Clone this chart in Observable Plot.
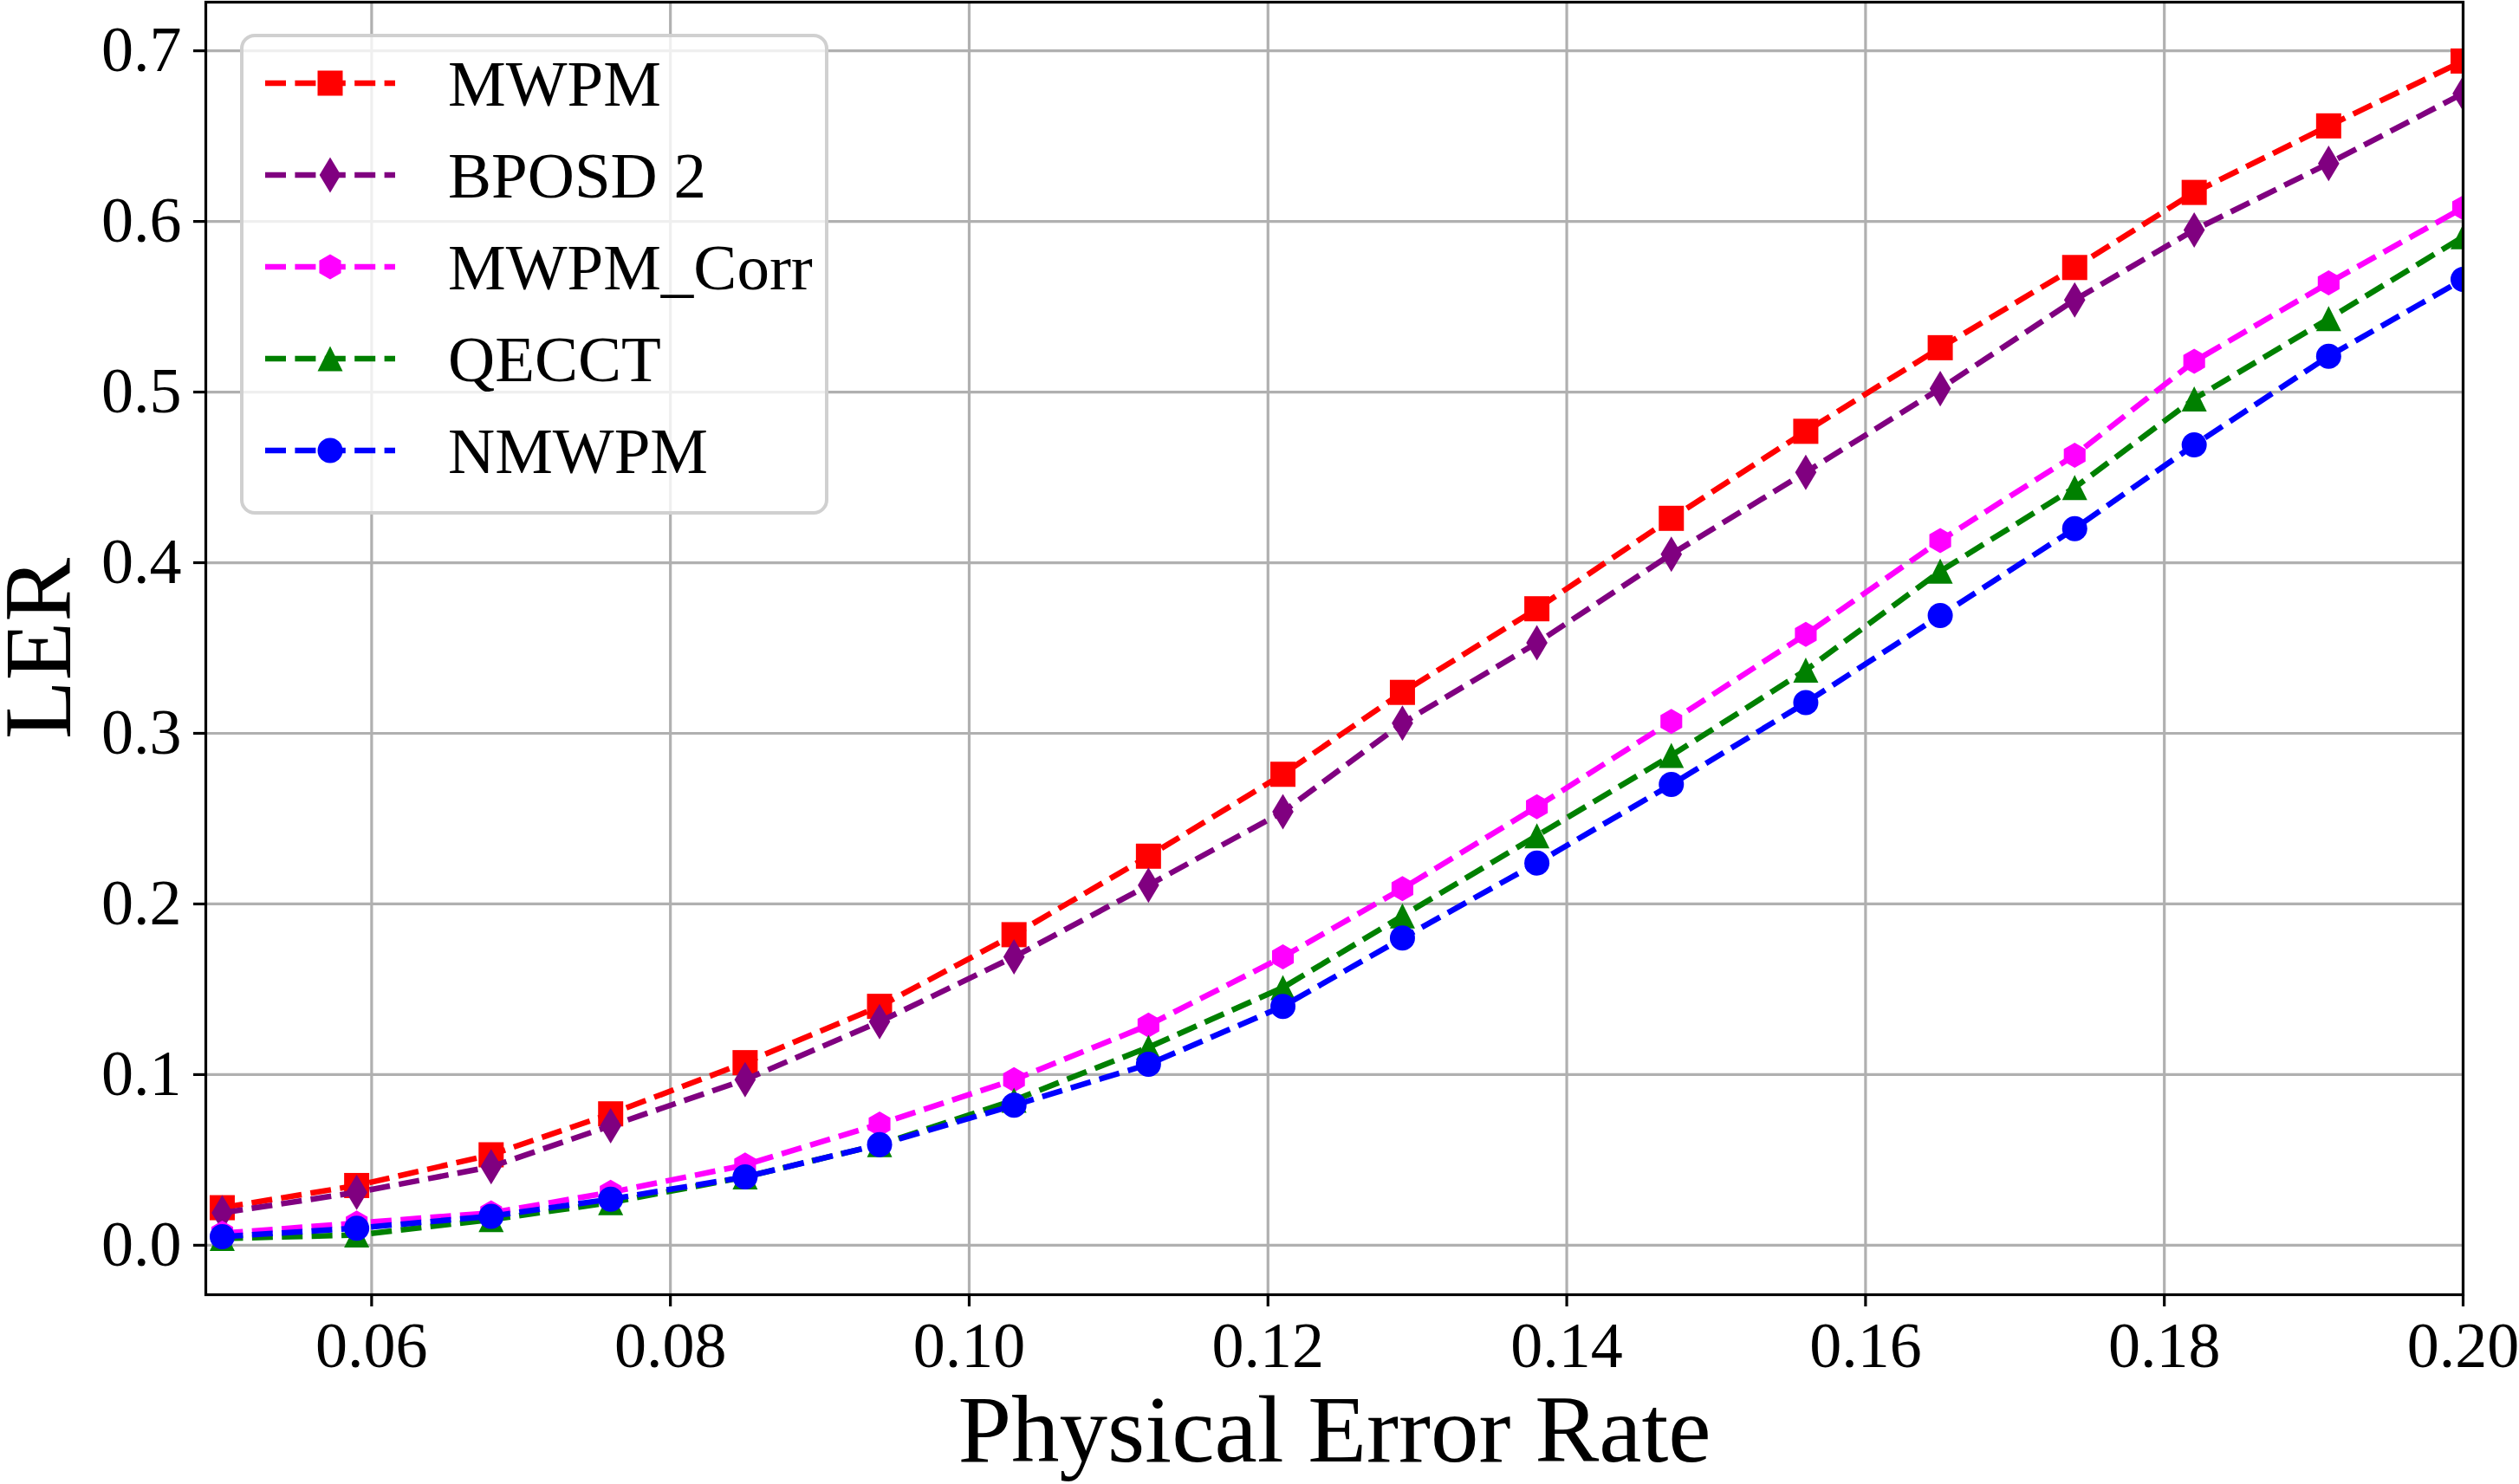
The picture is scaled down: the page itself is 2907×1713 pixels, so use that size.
<!DOCTYPE html>
<html>
<head>
<meta charset="utf-8">
<script src="https://cdn.jsdelivr.net/npm/d3@7"></script>
<script src="https://cdn.jsdelivr.net/npm/@observablehq/plot@0.6"></script>
<style>
  html, body { margin: 0; padding: 0; background: #ffffff; }
  #chart { width: 2907px; height: 1713px; }
  svg { overflow: visible; }
</style>
</head>
<body>
<div id="chart"></div>
<script>
// Physical error rates at which each decoder was evaluated
const errorRates = [0.05, 0.059, 0.068, 0.076, 0.085, 0.094, 0.103, 0.112, 0.121,
                    0.129, 0.138, 0.147, 0.156, 0.165, 0.174, 0.182, 0.191, 0.2];

// Logical error rate per decoder
const lerMWPM     = [0.022, 0.035, 0.053, 0.077, 0.107, 0.140, 0.182, 0.228, 0.276,
                    0.324, 0.373, 0.426, 0.477, 0.526, 0.573, 0.617, 0.656, 0.694];
const lerBPOSD2   = [0.019, 0.031, 0.046, 0.070, 0.097, 0.131, 0.169, 0.211, 0.254,
                    0.306, 0.353, 0.405, 0.453, 0.502, 0.554, 0.595, 0.634, 0.675];
const lerMWPMCorr = [0.007, 0.013, 0.019, 0.031, 0.047, 0.071, 0.097, 0.129, 0.169,
                    0.209, 0.257, 0.307, 0.358, 0.413, 0.463, 0.518, 0.564, 0.608];
const lerQECCT    = [0.004, 0.006, 0.015, 0.025, 0.040, 0.059, 0.085, 0.116, 0.151,
                    0.193, 0.240, 0.287, 0.337, 0.395, 0.444, 0.496, 0.543, 0.591];
const lerNMWPM    = [0.005, 0.010, 0.017, 0.027, 0.040, 0.059, 0.082, 0.106, 0.140,
                    0.180, 0.224, 0.270, 0.318, 0.369, 0.420, 0.469, 0.521, 0.566];

const decoderNames = ["MWPM", "BPOSD 2", "MWPM_Corr", "QECCT", "NMWPM"];
const decoderColors = ["#ff0000", "#800080", "#ff00ff", "#008000", "#0000ff"];
const decoderValues = [lerMWPM, lerBPOSD2, lerMWPMCorr, lerQECCT, lerNMWPM];

const xTicks = [0.06, 0.08, 0.10, 0.12, 0.14, 0.16, 0.18, 0.20];
const yTicks = [0.0, 0.1, 0.2, 0.3, 0.4, 0.5, 0.6, 0.7];

const FONT = "'Liberation Serif', 'Times New Roman', serif";

// Marker shapes: r is the half-extent derived from the dot radius
const shape = (fn) => ({ draw(ctx, size) { fn(ctx, Math.sqrt(size / Math.PI)); } });
const symSquare = shape((c, r) => { c.rect(-r, -r, 2 * r, 2 * r); });
const symThinDiamond = shape((c, r) => {
  const h = r * Math.SQRT2, w = 0.6 * h;
  c.moveTo(0, -h); c.lineTo(w, 0); c.lineTo(0, h); c.lineTo(-w, 0); c.closePath();
});
const symHexagon = shape((c, r) => {
  for (let k = 0; k < 6; k++) {
    const a = -Math.PI / 2 + k * Math.PI / 3;
    const px = r * Math.cos(a), py = r * Math.sin(a);
    if (k === 0) c.moveTo(px, py); else c.lineTo(px, py);
  }
  c.closePath();
});
const symTriangle = shape((c, r) => {
  c.moveTo(0, -r); c.lineTo(r, r); c.lineTo(-r, r); c.closePath();
});
const symCircle = shape((c, r) => { c.moveTo(r, 0); c.arc(0, 0, r, 0, 2 * Math.PI); });
const decoderSymbols = [symSquare, symThinDiamond, symHexagon, symTriangle, symCircle];

const rows = [];
decoderNames.forEach((name, s) => {
  errorRates.forEach((p, i) => rows.push({ p, ler: decoderValues[s][i], decoder: name }));
});

const LINE_W = 6.5, DASH = "24,10.4", MARKER_R = 14.5;
const seriesMarks = decoderNames.flatMap((name, s) => {
  const data = rows.filter(d => d.decoder === name);
  return [
    Plot.line(data, { x: "p", y: "ler", stroke: decoderColors[s], strokeWidth: LINE_W,
                      strokeDasharray: DASH, strokeLinecap: "butt", clip: true }),
    Plot.dot(data, { x: "p", y: "ler", fill: decoderColors[s], stroke: "none",
                     symbol: decoderSymbols[s], r: MARKER_R, clip: true })
  ];
});

const chart = Plot.plot({
  width: 2907,
  height: 1713,
  marginLeft: 237,
  marginRight: 65,
  marginTop: 2,
  marginBottom: 219,
  style: { fontFamily: FONT, background: "#ffffff", color: "#000000" },
  x: { domain: [0.0489, 0.2] },
  y: { domain: [-0.029, 0.7285] },
  marks: [
    Plot.gridX(xTicks, { stroke: "#b0b0b0", strokeOpacity: 1, strokeWidth: 3.2 }),
    Plot.gridY(yTicks, { stroke: "#b0b0b0", strokeOpacity: 1, strokeWidth: 3.2 }),
    ...seriesMarks,
    Plot.frame({ stroke: "#000000", strokeWidth: 3.2 }),
    Plot.axisX({ ticks: xTicks, tickFormat: d => d.toFixed(2), tickSize: 14, tickPadding: 17,
                 strokeWidth: 3.2, fontSize: 74, label: null }),
    Plot.axisY({ ticks: yTicks, tickFormat: d => d.toFixed(1), tickSize: 14, tickPadding: 14,
                 strokeWidth: 3.2, fontSize: 74, label: null }),
    Plot.text(["Physical Error Rate"], { text: d => d, frameAnchor: "bottom", dy: 157,
                                          lineAnchor: "middle", fontSize: 111,
                                          textAnchor: "middle", fill: "#000000" }),
    Plot.text(["LER"], { text: d => d, frameAnchor: "left", dx: -192, rotate: -90,
                         lineAnchor: "middle", fontSize: 111,
                         textAnchor: "middle", fill: "#000000" })
  ]
});

document.getElementById("chart").appendChild(chart);

// Legend box in the upper-left corner of the plotting area
const svg = d3.select(chart);
const legend = svg.append("g").attr("class", "decoder-legend");
legend.append("rect")
  .attr("x", 279).attr("y", 41).attr("width", 675).attr("height", 551)
  .attr("rx", 15).attr("ry", 15)
  .attr("fill", "#ffffff").attr("fill-opacity", 0.8)
  .attr("stroke", "#d0d0d0").attr("stroke-width", 4);

const rowY = [96, 202, 308, 414, 520];
decoderNames.forEach((name, s) => {
  const g = legend.append("g").attr("transform", `translate(0,${rowY[s]})`);
  g.append("line")
    .attr("x1", 306).attr("x2", 456).attr("y1", 0).attr("y2", 0)
    .attr("stroke", decoderColors[s]).attr("stroke-width", LINE_W)
    .attr("stroke-dasharray", DASH);
  const path = d3.path();
  decoderSymbols[s].draw(path, MARKER_R * MARKER_R * Math.PI);
  g.append("path")
    .attr("transform", "translate(381,0)")
    .attr("d", path.toString())
    .attr("fill", decoderColors[s]);
  g.append("text")
    .attr("x", 517).attr("y", 26)
    .attr("text-anchor", "start")
    .attr("font-size", 75)
    .attr("font-family", FONT)
    .attr("fill", "#000000")
    .text(name);
});
</script>
</body>
</html>
